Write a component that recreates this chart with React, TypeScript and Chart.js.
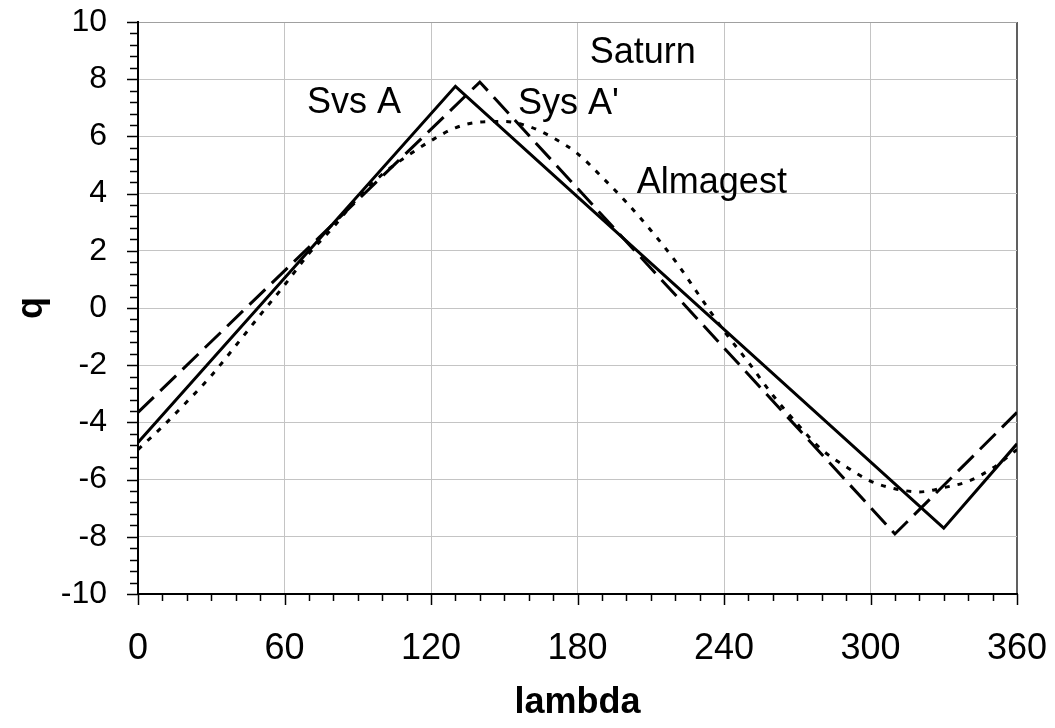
import React, { useEffect, useRef } from "react";
import { Chart, registerables } from "chart.js";

Chart.register(...registerables);

// Sys A (solid)
const sysAX = [0, 130, 330, 360];
const sysAY = [-4.7, 7.75, -7.7, -4.75];

// Sys A' (dashed)
const sysA2X = [0, 140, 310, 360];
const sysA2Y = [-3.65, 7.9, -7.9, -3.65];

// Almagest (dotted)
const almX = [0, 10, 20, 30, 40, 50, 60, 70, 80, 90, 100, 110, 120, 130, 140, 150, 160, 170, 180, 190, 200, 210, 220, 230, 240, 250, 260, 270, 280, 290, 300, 310, 320, 330, 340, 350, 360];
const almY = [-4.95, -4.15, -3.28, -2.37, -1.32, -0.25, 0.8, 1.9, 2.83, 3.85, 4.67, 5.3, 5.85, 6.3, 6.5, 6.52, 6.35, 5.95, 5.4, 4.58, 3.7, 2.72, 1.65, 0.42, -0.8, -1.9, -3.05, -4.05, -4.95, -5.55, -6.05, -6.32, -6.43, -6.28, -6.06, -5.6, -4.95];

// In-plot text labels (data coordinates, left/baseline anchored)
const noteTexts = ["Saturn", "Svs A", "Sys A'", "Almagest"];
const noteX = [185, 69.2, 155.6, 204.3];
const noteY = [8.57, 6.83, 6.8, 4.02];

// Axis ticks
const xMin = 0, xMax = 360, xMajor = 60, xMinor = 10;
const yMin = -10, yMax = 10, yMajor = 2, yMinor = 0.4;

const FONT = "'Liberation Sans', Arial, sans-serif";

const toPts = (xs: number[], ys: number[]) => xs.map((x, i) => ({ x, y: ys[i] }));

const decoPlugin = {
  id: "deco",
  afterDraw(chart: any) {
    const { ctx } = chart;
    const x = chart.scales.x;
    const y = chart.scales.y;
    const left = chart.chartArea.left;
    const bottom = chart.chartArea.bottom;
    ctx.save();
    ctx.strokeStyle = "#000";
    ctx.lineWidth = 1.5;
    const ny = Math.round((yMax - yMin) / yMinor);
    for (let i = 0; i <= ny; i++) {
      const v = yMin + i * yMinor;
      const major = Math.abs(v / yMajor - Math.round(v / yMajor)) < 1e-6;
      const p = Math.round(y.getPixelForValue(v)) + 0.5;
      ctx.beginPath();
      ctx.moveTo(left - (major ? 11 : 8), p);
      ctx.lineTo(left, p);
      ctx.stroke();
    }
    const nx = Math.round((xMax - xMin) / xMinor);
    for (let i = 0; i <= nx; i++) {
      const v = xMin + i * xMinor;
      const major = v % xMajor === 0;
      const p = Math.round(x.getPixelForValue(v)) + 0.5;
      ctx.beginPath();
      ctx.moveTo(p, bottom);
      ctx.lineTo(p, bottom + (major ? 11 : 7));
      ctx.stroke();
    }
    ctx.fillStyle = "#000";
    ctx.font = `36px ${FONT}`;
    ctx.textAlign = "left";
    ctx.textBaseline = "alphabetic";
    noteTexts.forEach((t, i) => {
      ctx.fillText(t, x.getPixelForValue(noteX[i]), y.getPixelForValue(noteY[i]));
    });
    ctx.restore();
  },
};

export default function App() {
  const ref = useRef<HTMLCanvasElement | null>(null);
  useEffect(() => {
    if (!ref.current) return;
    const chart = new Chart(ref.current, {
      type: "line",
      data: {
        datasets: [
          {
            label: "Sys A",
            data: toPts(sysAX, sysAY),
            borderColor: "#000",
            borderWidth: 3,
            pointRadius: 0,
            fill: false,
          },
          {
            label: "Sys A'",
            data: toPts(sysA2X, sysA2Y),
            borderColor: "#000",
            borderWidth: 3,
            borderDash: [22, 9],
            pointRadius: 0,
            fill: false,
          },
          {
            label: "Almagest",
            data: toPts(almX, almY),
            borderColor: "#000",
            borderWidth: 3,
            borderDash: [5, 8],
            cubicInterpolationMode: "monotone",
            pointRadius: 0,
            fill: false,
          },
        ],
      },
      options: {
        animation: false,
        responsive: false,
        devicePixelRatio: 1,
        layout: { padding: { top: 22, right: 38, left: 0, bottom: 0 } },
        plugins: { legend: { display: false }, tooltip: { enabled: false } },
        scales: {
          x: {
            type: "linear",
            min: xMin,
            max: xMax,
            afterFit: (s: any) => {
              s.height = 134;
              s.paddingLeft = 0;
              s.paddingRight = 0;
            },
            ticks: {
              stepSize: xMajor,
              color: "#000",
              padding: 33,
              font: { family: FONT, size: 36 },
              maxRotation: 0,
            },
            grid: {
              drawTicks: false,
              color: (c: any) => (c.tick && c.tick.value === xMax ? "#606060" : "#c4c4c4"),
              lineWidth: (c: any) => (c.tick && c.tick.value === xMax ? 2 : 1),
            },
            border: { color: "#000", width: 2 },
            title: {
              display: true,
              text: "lambda",
              color: "#000",
              font: { family: FONT, size: 36, weight: "bold" },
              padding: { top: 0, bottom: 3 },
            },
          },
          y: {
            type: "linear",
            min: yMin,
            max: yMax,
            afterFit: (s: any) => {
              s.width = 138;
              s.paddingTop = 0;
              s.paddingBottom = 0;
            },
            ticks: {
              stepSize: yMajor,
              color: "#000",
              padding: 31,
              font: { family: FONT, size: 32 },
            },
            grid: {
              drawTicks: false,
              color: (c: any) => (c.tick && c.tick.value === yMax ? "#a0a0a0" : "#c4c4c4"),
              lineWidth: 1,
            },
            border: { color: "#000", width: 2 },
            title: {
              display: true,
              text: "q",
              color: "#000",
              font: { family: FONT, size: 36, weight: "bold" },
              padding: { top: 10, bottom: 0 },
            },
          },
        },
      },
      plugins: [decoPlugin],
    });
    return () => chart.destroy();
  }, []);
  return (
    <div style={{ position: "absolute", left: 0, top: 0, width: 1055, height: 728, background: "#fff" }}>
      <canvas ref={ref} width={1055} height={728} />
    </div>
  );
}
